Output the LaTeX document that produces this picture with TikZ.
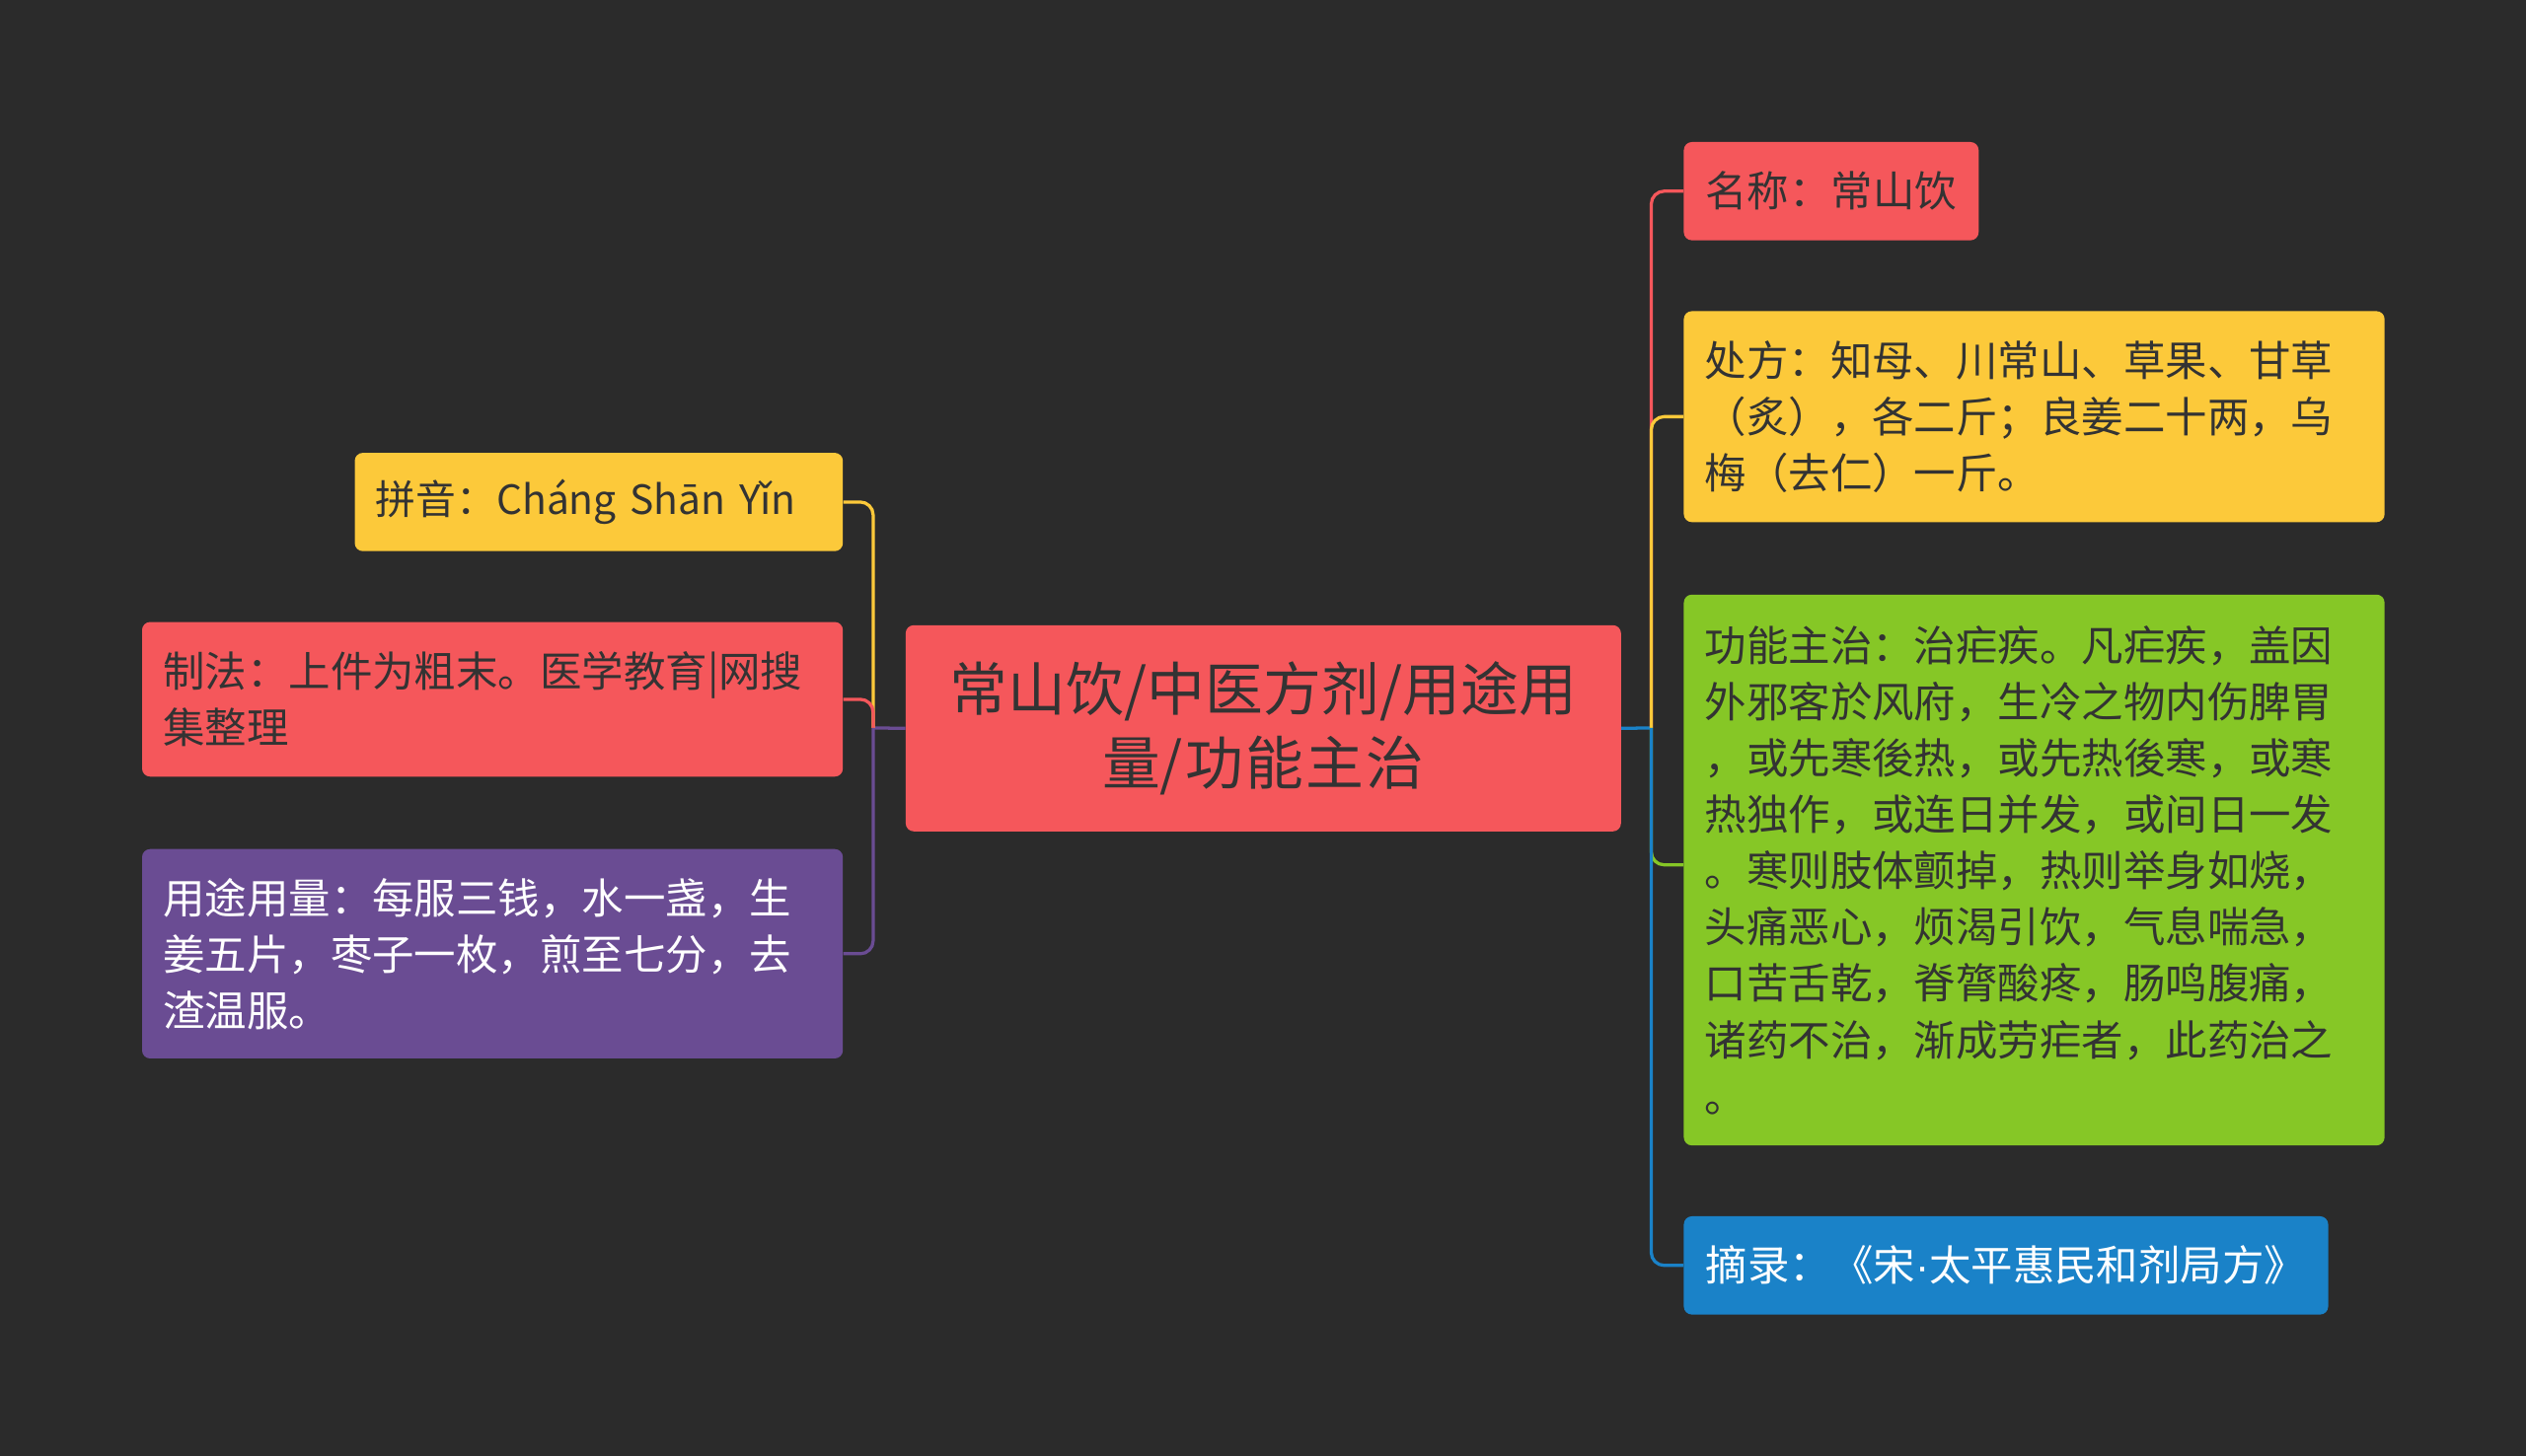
\documentclass[tikz,border=0pt]{standalone}
\usepackage{fontspec}
\setmainfont{Noto Sans CJK SC}
\newfontfamily\latinf{Liberation Sans}
\XeTeXlinebreaklocale "zh"
\XeTeXlinebreakskip=0pt plus 1pt
\definecolor{bg}{HTML}{2B2B2B}
\definecolor{cred}{HTML}{F5575B}
\definecolor{cyel}{HTML}{FCC93A}
\definecolor{cgrn}{HTML}{86C726}
\definecolor{cpur}{HTML}{6A4C93}
\definecolor{cblu}{HTML}{1A82C8}
\definecolor{tdark}{HTML}{333333}
\begin{document}
\begin{tikzpicture}[x=1pt,y=-1pt,
 box/.style={anchor=north west,rounded corners=5pt,inner xsep=13pt,inner ysep=0pt,align=left,font=\fontsize{26}{35}\selectfont,text=tdark},
 conn/.style={line width=2pt,rounded corners=8pt}]
\fill[bg] (0,0) rectangle (1568,904);
\useasboundingbox (0,0) rectangle (1568,904);
\node[box,fill=cred,minimum width=444pt,minimum height=128pt,align=center,text width=410pt,font=\fontsize{36}{46}\selectfont] (c) at (562,388) {常山饮/中医方剂/用途用\\量/功能主治};
\node[box,fill=cred,minimum width=183pt,minimum height=61pt] (a1) at (1045,88) {名称：常山饮};
\node[box,fill=cyel,minimum width=435pt,minimum height=131pt,text width=409pt] (a2) at (1045,193) {处方：知母、川常山、草果、甘草\\（炙），各二斤；良姜二十两，乌\\梅（去仁）一斤。};
\node[box,fill=cgrn,minimum width=435pt,minimum height=342pt,text width=409pt] (a3) at (1045,369) {功能主治：治疟疾。凡疟疾，盖因\\外邪客於风府，生冷之物内伤脾胃\\，或先寒後热，或先热後寒，或寒\\热独作，或连日并发，或间日一发\\。寒则肢体颤掉，热则举身如烧，\\头痛恶心，烦渴引饮，气息喘急，\\口苦舌乾，脊膂酸疼，肠鸣腹痛，\\诸药不治，渐成劳疟者，此药治之\\。};
\node[box,fill=cblu,minimum width=400pt,minimum height=61pt,text=white] (a4) at (1045,755) {摘录：《宋{\latinf ·}太平惠民和剂局方》};
\node[box,fill=cyel,minimum width=303pt,minimum height=61pt,text width=277pt,font=\fontsize{25}{35}\selectfont] (b1) at (220,281) {拼音：Cháng Shān Yǐn};
\node[box,fill=cred,minimum width=435pt,minimum height=96pt,text width=409pt] (b2) at (88,386) {制法：上件为粗末。医学教育|网搜\\集整理};
\node[box,fill=cpur,minimum width=435pt,minimum height=130pt,text width=409pt,text=white] (b3) at (88,527) {用途用量：每服三钱，水一盏，生\\姜五片，枣子一枚，煎至七分，去\\渣温服。};
\coordinate (r) at (1025,452);
\coordinate (l) at (542,452);
\draw[conn,cblu] (c.east) -- (r);
\draw[conn,cpur] (c.west) -- (l);
\draw[conn,cred] (r) |- (a1.west);
\draw[conn,cyel] (r) |- (a2.west);
\draw[conn,cgrn] (r) |- (1045,537);
\draw[conn,cblu] (r) |- (a4.west);
\draw[conn,cyel] (l) |- (b1.east);
\draw[conn,cred] (l) |- (b2.east);
\draw[conn,cpur] (l) |- (b3.east);
\end{tikzpicture}
\end{document}
